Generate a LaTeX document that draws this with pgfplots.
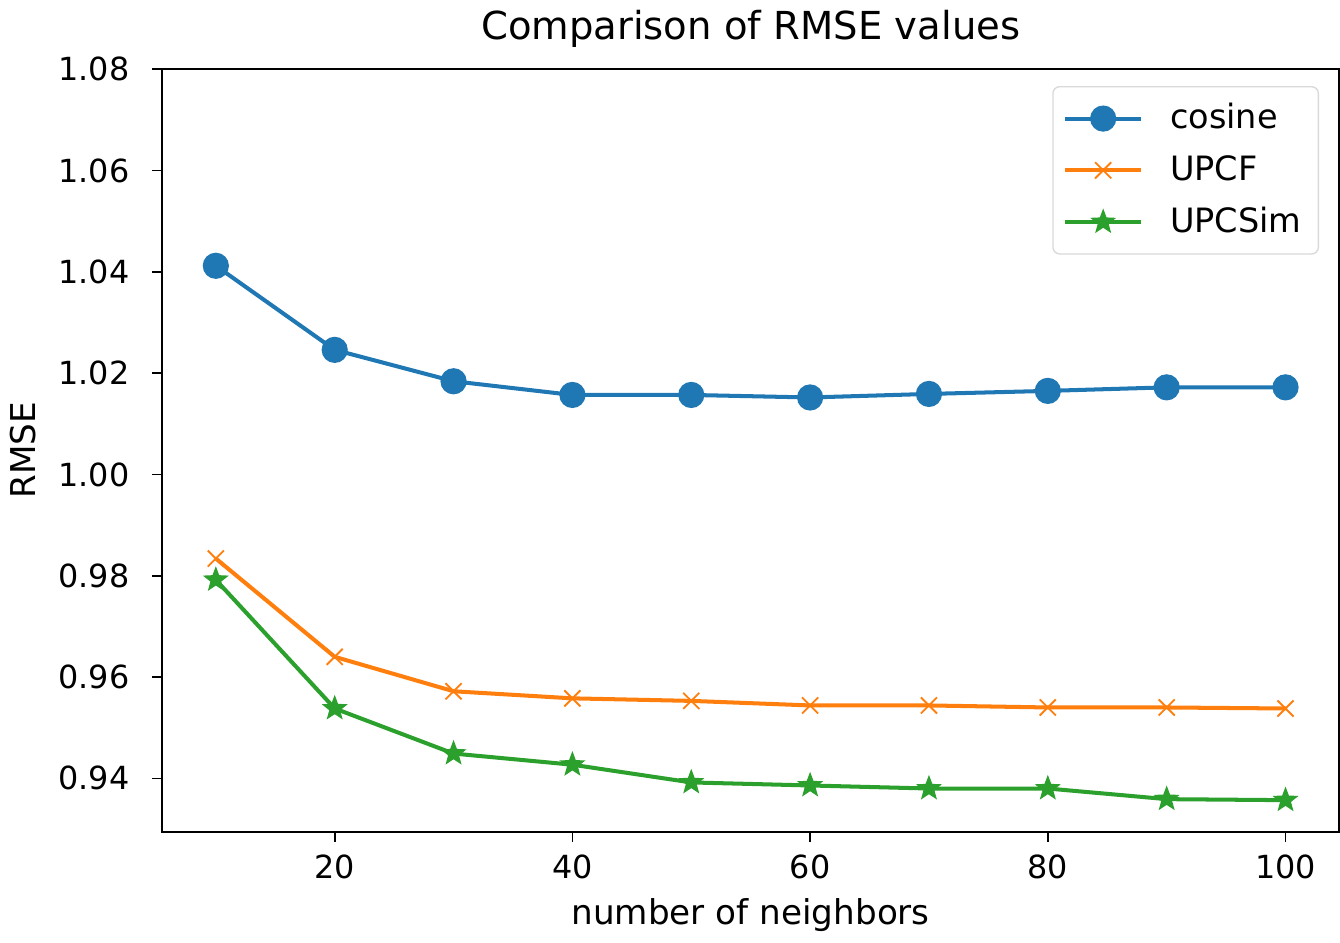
\documentclass[border=0pt]{standalone}
\usepackage{pgfplots}
\pgfplotsset{compat=1.18}
\usepackage{fontspec}
\setmainfont{DejaVu Sans}
\definecolor{tabblue}{HTML}{1F77B4}
\definecolor{taborange}{HTML}{FF7F0E}
\definecolor{tabgreen}{HTML}{2CA02C}
\pgfdeclareplotmark{fstar}{%
  \pgfpathmoveto{\pgfpointpolar{90}{\pgfplotmarksize}}%
  \pgfpathlineto{\pgfpointpolar{126}{0.42\pgfplotmarksize}}%
  \pgfpathlineto{\pgfpointpolar{162}{\pgfplotmarksize}}%
  \pgfpathlineto{\pgfpointpolar{198}{0.42\pgfplotmarksize}}%
  \pgfpathlineto{\pgfpointpolar{234}{\pgfplotmarksize}}%
  \pgfpathlineto{\pgfpointpolar{270}{0.42\pgfplotmarksize}}%
  \pgfpathlineto{\pgfpointpolar{306}{\pgfplotmarksize}}%
  \pgfpathlineto{\pgfpointpolar{342}{0.42\pgfplotmarksize}}%
  \pgfpathlineto{\pgfpointpolar{18}{\pgfplotmarksize}}%
  \pgfpathlineto{\pgfpointpolar{54}{0.42\pgfplotmarksize}}%
  \pgfpathclose
  \pgfusepathqfillstroke
}
\begin{document}
\fontsize{9.5}{11}\selectfont
\begin{tikzpicture}
\begin{axis}[
  scale only axis,
  width=351pt, height=227.4pt,
  xmin=5.5, xmax=104.5,
  ymin=0.9295, ymax=1.08,
  xtick={20,40,60,80,100},
  ytick={0.94,0.96,0.98,1.00,1.02,1.04,1.06,1.08},
  /pgf/number format/assume math mode=true,
  tick align=outside, xtick pos=left, ytick pos=left,
  major tick length=3pt,
  tick style={black, line width=0.5pt},
  axis line style={line width=0.6pt},
  ticklabel style={font=\fontsize{9.5}{11}\selectfont},
  yticklabel style={xshift=-3.5pt, /pgf/number format/.cd,fixed,fixed zerofill,precision=2},
  xticklabel style={yshift=-0.5pt},
  title={Comparison of RMSE values},
  title style={font=\fontsize{11.5}{13}\selectfont, yshift=-3pt},
  xlabel={number of neighbors},
  ylabel={RMSE},
  label style={font=\fontsize{10.2}{12}\selectfont},
  xlabel style={yshift=0.5pt},
  ylabel style={yshift=0pt},
  legend style={at={(0.983,0.978)}, anchor=north east, draw=black!15, rounded corners=2pt, font=\fontsize{10}{12}\selectfont, row sep=2.5pt, inner sep=3pt,
    /tikz/every odd column/.append style={column sep=6pt}},
  legend cell align=left,
  legend image code/.code={\draw[mark repeat=2,mark phase=2,#1] plot coordinates {(0cm,0cm) (0.4cm,0cm) (0.8cm,0cm)};},
]
\addplot[tabblue, line width=1.2pt, mark=*, mark size=3.3pt] coordinates {
(10,1.0412) (20,1.0246) (30,1.0184) (40,1.0157) (50,1.0157) (60,1.0152) (70,1.0159) (80,1.0165) (90,1.0172) (100,1.0172)};
\addlegendentry{cosine}
\addplot[taborange, line width=1.2pt, mark=x, mark size=3.4pt, mark options={line width=0.55pt}] coordinates {
(10,0.9834) (20,0.9640) (30,0.9572) (40,0.9558) (50,0.9553) (60,0.9544) (70,0.9544) (80,0.9540) (90,0.9540) (100,0.9538)};
\addlegendentry{UPCF}
\addplot[tabgreen, line width=1.2pt, mark=fstar, mark size=3.5pt, mark options={line width=0.4pt}] coordinates {
(10,0.9792) (20,0.9538) (30,0.9449) (40,0.9427) (50,0.9392) (60,0.9386) (70,0.9380) (80,0.9380) (90,0.9359) (100,0.9357)};
\addlegendentry{UPCSim}
\end{axis}
\end{tikzpicture}
\end{document}
